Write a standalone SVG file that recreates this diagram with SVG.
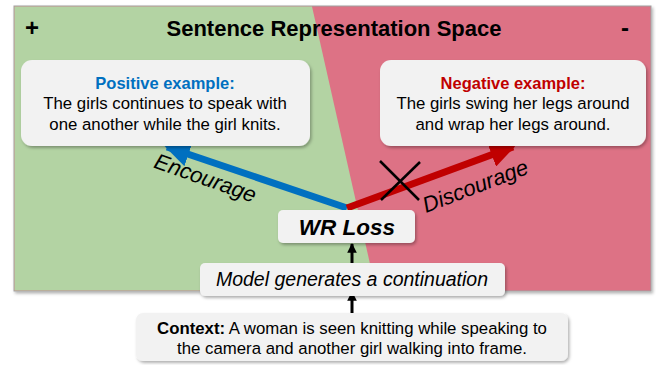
<svg xmlns="http://www.w3.org/2000/svg" width="656" height="365" viewBox="0 0 656 365">
<defs>
<filter id="sh" x="-10%" y="-20%" width="130%" height="150%">
<feDropShadow dx="1.5" dy="2" stdDeviation="1.5" flood-color="#000" flood-opacity="0.3"/>
</filter>
<marker id="ahb" viewBox="0 0 10 10" refX="9" refY="5" markerWidth="3.6" markerHeight="3.6" orient="auto" markerUnits="strokeWidth">
<path d="M0,0 L10,5 L0,10 z" fill="#0070c0"/>
</marker>
<marker id="ahr" viewBox="0 0 10 10" refX="9" refY="5" markerWidth="3.6" markerHeight="3.6" orient="auto" markerUnits="strokeWidth">
<path d="M0,0 L10,5 L0,10 z" fill="#c00000"/>
</marker>
<marker id="ahk" viewBox="0 0 10 10" refX="9" refY="5" markerWidth="3.2" markerHeight="3.2" orient="auto" markerUnits="strokeWidth">
<path d="M0,0 L10,5 L0,10 z" fill="#000"/>
</marker>
</defs>
<style>
text{font-family:"Liberation Sans",Arial,sans-serif;fill:#000}
.box{fill:#f2f2f2;filter:url(#sh)}
.t{font-size:16.8px;text-anchor:middle}
.h{font-size:16.5px;font-weight:bold;text-anchor:middle}
.lbl{font-size:22px;font-style:italic;text-anchor:middle}
</style>
<g id="background">
<rect x="14" y="6" width="637" height="285" fill="#dd7285" stroke="#a0a0a0" stroke-width="1" filter="url(#sh)"/>
<polygon points="14.5,6.5 312,6.5 376,290.5 14.5,290.5" fill="#b3d3a3"/>
<text x="334" y="36" font-size="22" font-weight="bold" text-anchor="middle">Sentence Representation Space</text>
<text x="32" y="36" font-size="24" font-weight="bold" text-anchor="middle">+</text>
<text x="625" y="36" font-size="24" font-weight="bold" text-anchor="middle">-</text>
</g>
<g id="connectors">
<line x1="347" y1="208" x2="167" y2="147" stroke="#0070c0" stroke-width="7" marker-end="url(#ahb)"/>
<line x1="347" y1="208" x2="513" y2="147" stroke="#c00000" stroke-width="7" marker-end="url(#ahr)"/>
<line x1="380" y1="161" x2="419" y2="200" stroke="#000" stroke-width="2.5"/>
<line x1="420" y1="162" x2="381" y2="200" stroke="#000" stroke-width="2.5"/>
<line x1="352" y1="265" x2="352" y2="244" stroke="#000" stroke-width="3" marker-end="url(#ahk)"/>
<line x1="352" y1="314" x2="352" y2="292" stroke="#000" stroke-width="3" marker-end="url(#ahk)"/>
<text class="lbl" transform="translate(203,185) rotate(19.5)">Encourage</text>
<text class="lbl" transform="translate(478,193) rotate(-21)">Discourage</text>
</g>
<g id="positive">
<rect class="box" x="21" y="60" width="289" height="86" rx="11"/>
<text class="h" x="165" y="89" style="fill:#0070c0">Positive example:</text>
<text class="t" x="165" y="109">The girls continues to speak with</text>
<text class="t" x="165" y="130">one another while the girl knits.</text>
</g>
<g id="negative">
<rect class="box" x="380" y="60" width="266" height="86" rx="11"/>
<text class="h" x="513" y="89" style="fill:#c00000">Negative example:</text>
<text class="t" x="513" y="109">The girls swing her legs around</text>
<text class="t" x="513" y="130">and wrap her legs around.</text>
</g>
<g id="wrloss">
<rect class="box" x="278" y="210" width="137" height="33" rx="5"/>
<text x="347" y="235" font-size="22.5" font-weight="bold" font-style="italic" text-anchor="middle">WR Loss</text>
</g>
<g id="model">
<rect class="box" x="200" y="263" width="305" height="33" rx="5"/>
<text x="352" y="286" font-size="19.5" font-style="italic" text-anchor="middle">Model generates a continuation</text>
</g>
<g id="context">
<rect class="box" x="136" y="313" width="432" height="48" rx="7"/>
<text class="t" x="352" y="334"><tspan font-weight="bold">Context:</tspan> A woman is seen knitting while speaking to</text>
<text class="t" x="352" y="354">the camera and another girl walking into frame.</text>
</g>
</svg>
